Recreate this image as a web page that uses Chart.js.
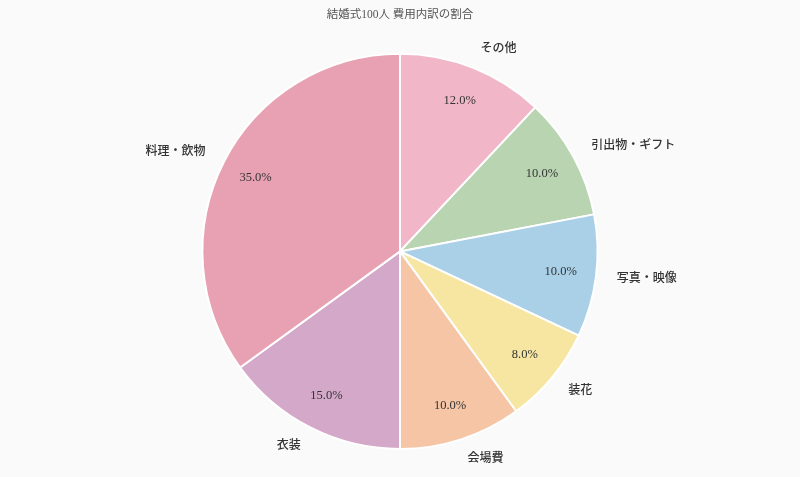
<!DOCTYPE html>
<html>
<head>
<meta charset="utf-8">
<script src="https://cdn.jsdelivr.net/npm/chart.js@4"></script>
<style>
  html, body { margin: 0; padding: 0; background: #fafafa; }
  #wrap { width: 800px; height: 477px; }
</style>
</head>
<body>
<div id="wrap"><canvas id="pieChart"></canvas></div>
<script>
// Data (clockwise from 12 o'clock)
const categories = ['その他', '引出物・ギフト', '写真・映像', '装花', '会場費', '衣装', '料理・飲物'];
const shares = [12, 10, 10, 8, 10, 15, 35];
const sliceColors = ['#f1b7c9', '#b9d4b1', '#a9d0e7', '#f7e6a1', '#f5c5a5', '#d4a8c8', '#e8a1b3'];
const chartTitle = '結婚式100人 費用内訳の割合';

const serifFont = '"Liberation Serif", "Noto Sans CJK JP", serif';

// Outside labels + percentages, placed from each arc's geometry
const sliceLabels = {
    id: 'sliceLabels',
    afterDatasetsDraw(chart) {
        const ctx = chart.ctx;
        const meta = chart.getDatasetMeta(0);
        const total = shares.reduce((sum, v) => sum + v, 0);
        ctx.save();
        ctx.fillStyle = '#333';
        ctx.textBaseline = 'middle';
        meta.data.forEach((arc, i) => {
            const p = arc.getProps(['x', 'y', 'startAngle', 'endAngle', 'outerRadius'], true);
            const mid = (p.startAngle + p.endAngle) / 2;
            const cos = Math.cos(mid), sin = Math.sin(mid);

            // category name
            ctx.font = '500 12px ' + serifFont;
            ctx.textAlign = cos >= 0 ? 'left' : 'right';
            ctx.fillText(categories[i], p.x + cos * p.outerRadius * 1.105, p.y + sin * p.outerRadius * 1.105);

            // percentage
            ctx.font = '12.5px ' + serifFont;
            ctx.textAlign = 'center';
            const pct = (shares[i] / total * 100).toFixed(1) + '%';
            ctx.fillText(pct, p.x + cos * p.outerRadius * 0.82, p.y + sin * p.outerRadius * 0.82);
        });
        ctx.restore();
    }
};

const ctxPie = document.getElementById('pieChart').getContext('2d');
const pieChart = new Chart(ctxPie, {
    type: 'pie',
    data: {
        labels: categories,
        datasets: [{
            data: shares,
            backgroundColor: sliceColors,
            borderColor: '#ffffff',
            borderWidth: 2,
            hoverOffset: 0
        }]
    },
    options: {
        responsive: true,
        maintainAspectRatio: false,
        animation: false,
        layout: {
            padding: { top: 0, bottom: 27, left: 0, right: 0 }
        },
        plugins: {
            legend: { display: false },
            tooltip: { enabled: false },
            title: {
                display: true,
                text: chartTitle,
                color: '#555',
                font: { family: serifFont, size: 11.5, weight: 'normal' },
                padding: { top: 8, bottom: 31 }
            }
        }
    },
    plugins: [sliceLabels]
});
</script>
</body>
</html>
